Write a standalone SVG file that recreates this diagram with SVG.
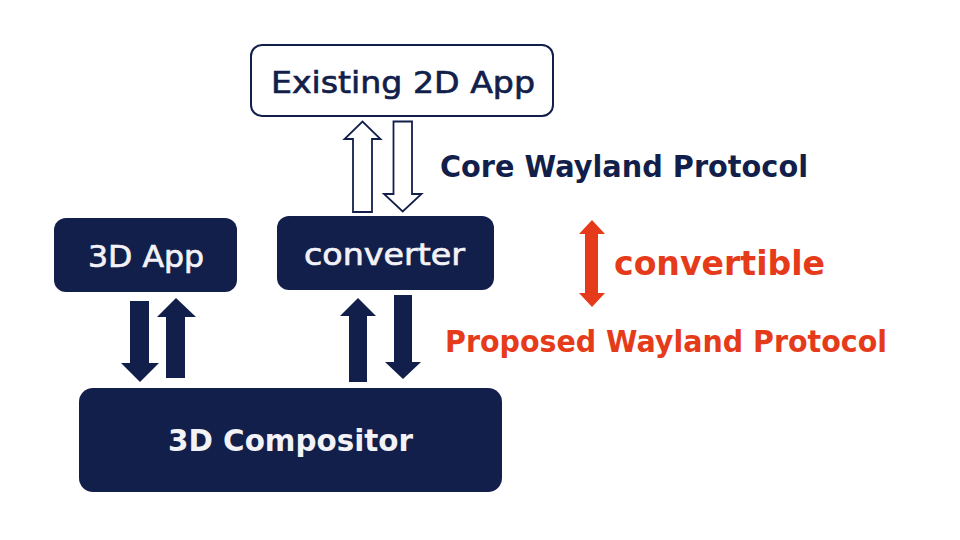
<svg xmlns="http://www.w3.org/2000/svg" width="960" height="540" viewBox="0 0 960 540">
<style>
.box{fill:#131f4b}
.t{font-family:"DejaVu Sans","Noto Sans",sans-serif;text-anchor:middle}
.w{fill:#f2f2f7}
.navy{fill:#131f4b}
.org{fill:#e53b1a}
.med{stroke-width:0.7;paint-order:stroke}
.w.med{stroke:#f2f2f7}
.navy.med{stroke:#131f4b}
.lbl{font-family:"DejaVu Sans","Noto Sans",sans-serif;font-weight:bold}
.solid{fill:#131f4b}
.hollow{fill:#ffffff;stroke:#131f4b;stroke-width:1.8;stroke-linejoin:miter}
</style>
<rect width="960" height="540" fill="#ffffff"/>
<g id="existing-2d-app">
<rect x="251" y="45" width="302" height="71" rx="11" fill="#ffffff" stroke="#131f4b" stroke-width="2"/>
<text class="t navy med" x="403" y="93" font-size="31" textLength="264" lengthAdjust="spacingAndGlyphs">Existing 2D App</text>
</g>
<g id="app-3d">
<rect class="box" x="54" y="218" width="183" height="74" rx="12"/>
<text class="t w med" x="146" y="267" font-size="31" textLength="116" lengthAdjust="spacingAndGlyphs">3D App</text>
</g>
<g id="converter">
<rect class="box" x="277" y="216" width="217" height="74" rx="12"/>
<text class="t w med" x="384.5" y="265" font-size="31" textLength="161" lengthAdjust="spacingAndGlyphs">converter</text>
</g>
<g id="compositor">
<rect class="box" x="79" y="388" width="423" height="104" rx="14"/>
<text class="t w" x="290.5" y="451" font-size="31" font-weight="bold" textLength="245" lengthAdjust="spacingAndGlyphs">3D Compositor</text>
</g>
<g id="connectors">
<polygon class="hollow" points="353,212 353,139 344.5,139 362.5,121.5 380.5,139 372,139 372,212"/>
<polygon class="hollow" points="393.5,121.5 412,121.5 412,194 421.5,194 402.7,211.5 384,194 393.5,194"/>
<polygon class="solid" points="130,301 149,301 149,363 159,363 140,382 121,363 130,363"/>
<polygon class="solid" points="166,378 166,317 157,317 176,298 196,317 185,317 185,378"/>
<polygon class="solid" points="349,382 349,316 340,316 358,298 376,316 367,316 367,382"/>
<polygon class="solid" points="394,295 412,295 412,362 421,362 403,379 385,362 394,362"/>
<polygon class="org" points="592,220 605,234 598,234 598,293 605,293 592,307 579,293 585,293 585,234 579,234"/>
</g>
<g id="labels">
<text class="lbl navy" x="440" y="177" font-size="30" textLength="368" lengthAdjust="spacingAndGlyphs">Core Wayland Protocol</text>
<text class="lbl org" x="614" y="275" font-size="33" textLength="211" lengthAdjust="spacingAndGlyphs">convertible</text>
<text class="lbl org" x="445" y="352" font-size="30" textLength="442" lengthAdjust="spacingAndGlyphs">Proposed Wayland Protocol</text>
</g>
</svg>
